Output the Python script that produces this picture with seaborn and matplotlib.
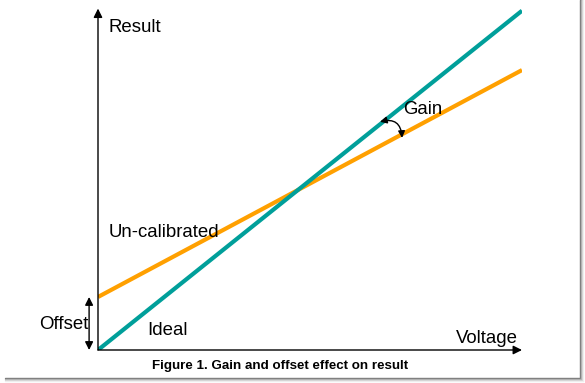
import matplotlib
matplotlib.use('Agg')
import matplotlib.pyplot as plt
import seaborn as sns
from matplotlib.lines import Line2D

# Données : tension (axe x) et résultat (axe y)
voltage = [0, 10]
ideal = [0, 8.0]
uncalibrated = [1.25, 6.6]

sns.set_style('white')
plt.rcParams['font.family'] = ['Liberation Sans', 'DejaVu Sans']
plt.rcParams['text.color'] = 'black'

fig = plt.figure(figsize=(5.85, 3.83), dpi=100)
ax = fig.add_axes([98 / 585, 33 / 383, 424 / 585, 341 / 383])
ax.set_xlim(0, 10)
ax.set_ylim(0, 8.04)
ax.axis('off')

sns.lineplot(x=voltage, y=uncalibrated, ax=ax, color='#ffa000', linewidth=3, solid_capstyle='butt')
sns.lineplot(x=voltage, y=ideal, ax=ax, color='#009f9a', linewidth=3, solid_capstyle='butt')

# axes avec flèches
arrow = dict(arrowstyle='-|>', color='black', lw=1, mutation_scale=13, shrinkA=0, shrinkB=0)
ax.annotate('', xy=(0, 8.05), xytext=(0, 0), arrowprops=arrow, annotation_clip=False)
ax.annotate('', xy=(10.0, 0), xytext=(0, 0), arrowprops=arrow, annotation_clip=False)

# flèche offset
both = dict(arrowstyle='<|-|>', color='black', lw=1, mutation_scale=12, shrinkA=0, shrinkB=0)
ax.annotate('', xy=(-0.21, 1.25), xytext=(-0.21, 0), arrowprops=both, annotation_clip=False)

# flèche gain (arc)
gain = dict(arrowstyle='<|-|>', color='black', lw=1, mutation_scale=10, shrinkA=0, shrinkB=0,
            connectionstyle='arc3,rad=-0.6')
ax.annotate('', xy=(7.17, 5.0), xytext=(6.65, 5.38), arrowprops=gain, annotation_clip=False)

fs = 13.4
ax.text(0.24, 7.61, 'Result', fontsize=fs, va='center', ha='left')
ax.text(0.24, 2.76, 'Un-calibrated', fontsize=fs, va='center', ha='left')
ax.text(7.19, 5.66, 'Gain', fontsize=fs, va='center', ha='left')
ax.text(-0.23, 0.61, 'Offset', fontsize=fs, va='center', ha='right', clip_on=False)
ax.text(1.16, 0.47, 'Ideal', fontsize=fs, va='center', ha='left')
ax.text(9.9, 0.28, 'Voltage', fontsize=fs, va='center', ha='right')
fig.text(280 / 585, 1 - 366 / 383, 'Figure 1. Gain and offset effect on result',
         fontsize=9.6, fontweight='bold', ha='center', va='center')

# cadre avec ombre (droite et bas)
for i, c in enumerate(['#777777', '#aaaaaa', '#d0d0d0', '#eeeeee']):
    fig.add_artist(Line2D([(580 + i) / 585] * 2, [1 - (378 + i) / 383, 1], color=c, lw=1))
    fig.add_artist(Line2D([5 / 585, (580 + i) / 585], [1 - (378 + i) / 383] * 2, color=c, lw=1))

fig.savefig('out.png', dpi=100)
